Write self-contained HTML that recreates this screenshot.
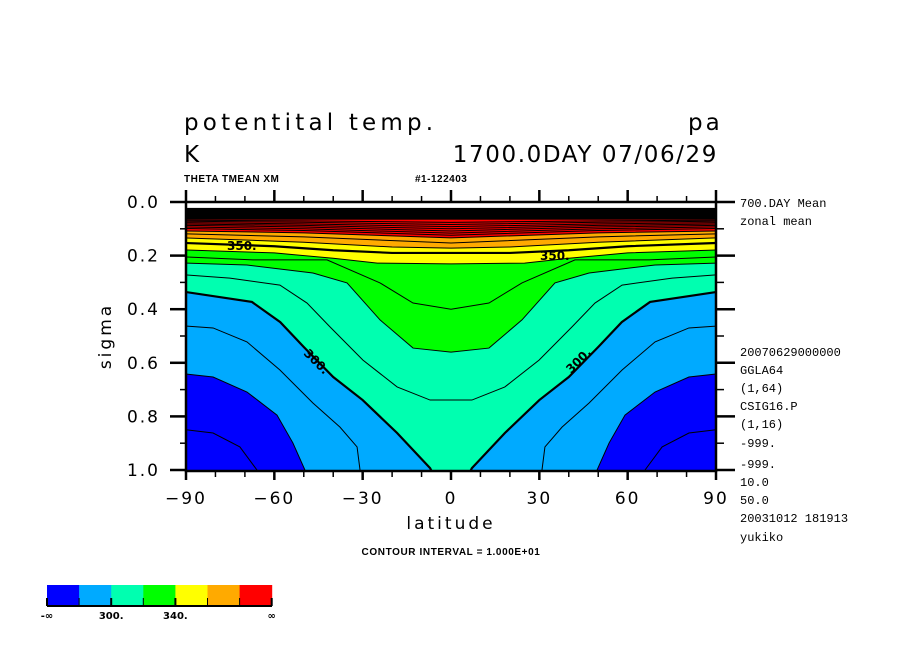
<!DOCTYPE html>
<html><head><meta charset="utf-8"><style>
body{margin:0;background:#fff;}
svg text{font-family:"Liberation Sans",sans-serif;}
.t{font-family:"DejaVu Sans","Liberation Sans",sans-serif;fill:#000;}
.m{font-family:"Liberation Mono",monospace;fill:#000;font-size:12px;}
.b{font-family:"Liberation Sans",sans-serif;font-weight:bold;fill:#000;font-size:10px;}
</style></head><body>
<svg id="chart" width="904" height="654" viewBox="0 0 904 654" xmlns="http://www.w3.org/2000/svg">
<defs><clipPath id="pc"><rect x="187" y="206" width="529" height="265"/></clipPath></defs>
<g>
<text class="t" x="184" y="130" font-size="23" letter-spacing="4.2">potentital temp.</text>
<text class="t" x="688" y="130" font-size="23" letter-spacing="3">pa</text>
<text class="t" x="184" y="162" font-size="23">K</text>
<text class="t" x="718" y="162" font-size="23" letter-spacing="1.6" text-anchor="end">1700.0DAY 07/06/29</text>
<text class="b" x="184" y="182" letter-spacing="0.5">THETA TMEAN XM</text>
<text class="b" x="415" y="182" letter-spacing="0.5">#1-122403</text>
</g>
<g id="plot" clip-path="url(#pc)"></g>
<g id="lines" clip-path="url(#pc)"></g>
<g id="axes"></g>
<g>
<text class="t" font-size="12" font-weight="bold" transform="translate(303,354) rotate(45)">300.</text>
<text class="t" font-size="12" font-weight="bold" transform="translate(571,374) rotate(-45)">300.</text>
<text class="t" font-size="12" font-weight="bold" x="227" y="250">350.</text>
<text class="t" font-size="12" font-weight="bold" x="540" y="260">350.</text>
</g>
<text class="t" x="451" y="529" font-size="17" letter-spacing="3" text-anchor="middle">latitude</text>
<text class="t" font-size="17" letter-spacing="3" text-anchor="middle" transform="translate(111,336) rotate(-90)">sigma</text>
<text class="b" x="451" y="555" font-size="9" letter-spacing="0.6" text-anchor="middle">CONTOUR INTERVAL = 1.000E+01</text>
<g>
<text class="m" x="740" y="207">700.DAY Mean</text>
<text class="m" x="740" y="225">zonal mean</text>
<text class="m" x="740" y="356">20070629000000</text>
<text class="m" x="740" y="374">GGLA64</text>
<text class="m" x="740" y="392">(1,64)</text>
<text class="m" x="740" y="410">CSIG16.P</text>
<text class="m" x="740" y="428">(1,16)</text>
<text class="m" x="740" y="447">-999.</text>
<text class="m" x="740" y="468">-999.</text>
<text class="m" x="740" y="486">10.0</text>
<text class="m" x="740" y="504">50.0</text>
<text class="m" x="740" y="522">20031012 181913</text>
<text class="m" x="740" y="541">yukiko</text>
</g>
<g id="cbar"></g>
</svg>
<script>
const bandColors=["#0000ff","#00aaff","#00ffb0","#00ff00","#ffff00","#ffaa00","#ff0000"];
const levels=[380,370,360,350,340,330,320,310,300,290,280,270];
const lat380=[-90,-50,0]; const sig380=[.108,.115,.134];
const lat370=[-90,-50,0]; const sig370=[.119,.13,.153];
const lat360=[-90,-50,-20,0]; const sig360=[.134,.15,.168,.172];
const lat350=[-90,-60,-40,-20,0]; const sig350=[.153,.165,.18,.19,.19];
const lat340=[-90,-60,-40,-25,0]; const sig340=[.179,.19,.21,.228,.231];
const lat330=[-90,-67.3,-42.1,-24.1,-12.9,0]; const sig330=[.205,.216,.216,.302,.377,.4];
const lat320=[-90,-69.3,-46.9,-35.3,-24.1,-12.9,0]; const sig320=[.228,.235,.265,.302,.44,.545,.56];
const lat310=[-90,-75.1,-58.1,-48.9,-41.1,-29.9,-18.3,-7.1,0]; const sig310=[.272,.284,.31,.377,.466,.59,.69,.739,.739];
const lat300=[-90,-67.6,-58,-50,-40,-30,-18.3,-7.1,-4]; const sig300=[.336,.373,.448,.541,.653,.739,.862,.993,1.06];
const lat290=[-90,-80.8,-69.3,-58.1,-46.9,-37.7,-31.9,-30.9,-30]; const sig290=[.463,.47,.522,.627,.75,.84,.914,1.0,1.05];
const lat280=[-90,-80.8,-69.3,-59.1,-53.7,-49.6,-48]; const sig280=[.642,.653,.709,.795,.899,1.0,1.05];
const lat270=[-90,-80.8,-71.7,-65.9,-64]; const sig270=[.85,.862,.914,1.0,1.05];
const latArr={380:lat380,370:lat370,360:lat360,350:lat350,340:lat340,330:lat330,320:lat320,310:lat310,300:lat300,290:lat290,280:lat280,270:lat270};
const sigArr={380:sig380,370:sig370,360:sig360,350:sig350,340:sig340,330:sig330,320:sig320,310:sig310,300:sig300,290:sig290,280:sig280,270:sig270};
const thick=[300,350];
const fillBelow={380:"#ffaa00",360:"#ffff00",340:"#00ff00",320:"#00ffb0",300:"#00aaff",280:"#0000ff"};
const upperLevels=[390,400,410,420,430,440,450];
const upperSigLeft=[.099,.093,.087,.082,.077,.072,.068];
const upperSigCenter=[.124,.116,.108,.1,.092,.084,.076];
const xTicks=[-90,-60,-30,0,30,60,90];
const yTicks=[0,0.2,0.4,0.6,0.8,1.0];
const yTickLabels=["0.0","0.2","0.4","0.6","0.8","1.0"];
const cbarLabels=["-∞","300.","340.","∞"];
const cbarLabelPos=[0,2,4,7];
const NS="http://www.w3.org/2000/svg";
const X=lat=>451+lat*265/90;
const Y=s=>202+268*s;
function mk(t,a,p){const e=document.createElementNS(NS,t);for(const k in a)e.setAttribute(k,a[k]);p.appendChild(e);return e;}
function pts(L){const la=latArr[L],sg=sigArr[L];const l=la.map((a,i)=>[X(a),Y(sg[i])]);const r=la.slice().reverse().map((a,i)=>[X(-a),Y(sg[sg.length-1-i])]);return l.concat(r);}
const plot=document.getElementById('plot'),lines=document.getElementById('lines');
const bg=mk('rect',{x:186,y:208,width:531,height:264,fill:'#ff0000'},plot);


for(const L of levels){if(!fillBelow[L])continue;const p=pts(L);
 const poly=p.map(q=>q.join(',')).join(' ')+` ${X(90)},${Y(1.1)} ${X(-90)},${Y(1.1)}`;
 const e=mk('polygon',{points:poly,fill:fillBelow[L]},plot);
 
 }
for(const L of levels){const p=pts(L);
 const e=mk('polyline',{points:p.map(q=>q.join(',')).join(' '),fill:'none',stroke:'#000','stroke-width':thick.includes(L)?2.2:1},lines);
 
 }
upperLevels.forEach((L,i)=>{const a=upperSigLeft[i],c=upperSigCenter[i];
 const p=[[-90,a],[-50,a+(c-a)*0.3],[0,c],[50,a+(c-a)*0.3],[90,a]].map(q=>X(q[0])+','+Y(q[1])).join(' ');
 const e=mk('polyline',{points:p,fill:'none',stroke:'#000','stroke-width':1},lines);
 
 });
const blk=mk('rect',{x:186,y:Y(0.022),width:531,height:Y(0.066)-Y(0.022),fill:'#000'},lines);


const ax=document.getElementById('axes');
const fr=mk('rect',{x:186,y:202,width:530,height:269,fill:'none',stroke:'#000','stroke-width':2.5},ax);


for(let l=-90;l<=90;l+=10){const maj=l%30===0;const x=X(l);
 mk('line',{x1:x,y1:471,x2:x,y2:maj?480:477,stroke:'#000','stroke-width':maj?2.5:1.5},ax);
 mk('line',{x1:x,y1:202,x2:x,y2:maj?190:196,stroke:'#000','stroke-width':maj?2.5:1.5},ax);}
xTicks.forEach(l=>{const t=mk('text',{x:X(l),y:504,'font-size':17,'text-anchor':'middle','letter-spacing':2,class:'t'},ax);t.textContent=String(l).replace('-','−');
 
 });
for(let s=0;s<=1.0001;s+=0.1){const maj=Math.round(s*10)%2===0;const y=Y(s);
 mk('line',{x1:maj?170:180,y1:y,x2:186,y2:y,stroke:'#000','stroke-width':maj?2.5:1.5},ax);
 mk('line',{x1:716,y1:y,x2:maj?735:724,y2:y,stroke:'#000','stroke-width':maj?2.5:1.5},ax);}
yTicks.forEach((s,i)=>{const t=mk('text',{x:160,y:Y(s)+6,'font-size':17,'text-anchor':'end','letter-spacing':2,class:'t'},ax);t.textContent=yTickLabels[i];
 
 });
const cb=document.getElementById('cbar');const cw=32.1;
bandColors.forEach((c,i)=>{const r=mk('rect',{x:47+i*cw,y:585,width:cw+0.5,height:20,fill:c},cb);
 
 });
mk('line',{x1:47,y1:606,x2:272,y2:606,stroke:'#000','stroke-width':2},cb);
for(let i=0;i<=7;i++){const x=47+i*cw;mk('line',{x1:x,y1:598,x2:x,y2:606,stroke:'#000','stroke-width':(i===0||i===7||i===2||i===4)?2:1},cb);}
cbarLabels.forEach((s,i)=>{const t=mk('text',{x:47+cbarLabelPos[i]*cw,y:619,'font-size':10,'font-weight':'bold','text-anchor':'middle',class:'t'},cb);t.textContent=s;
 
 });
</script>
</body></html>
